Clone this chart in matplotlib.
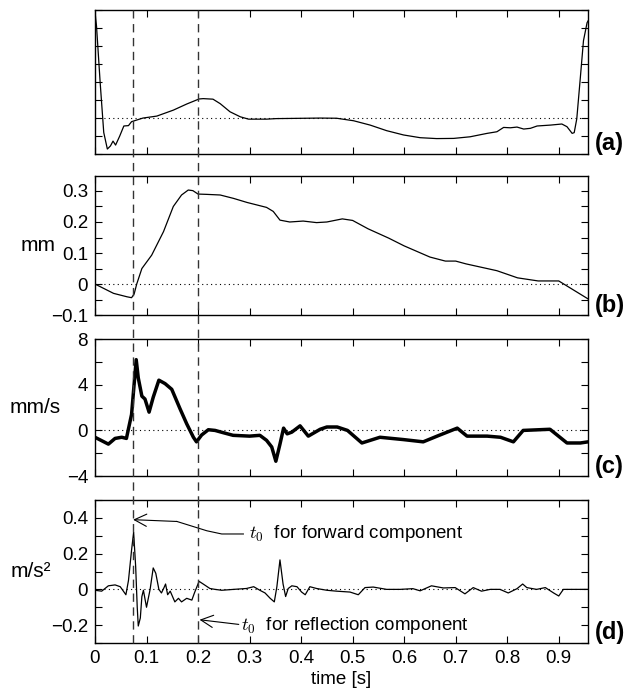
import matplotlib
matplotlib.use("Agg")
import matplotlib.pyplot as plt
from matplotlib.lines import Line2D
from matplotlib import transforms

plt.rcParams['font.family'] = ['Liberation Sans', 'DejaVu Sans']
plt.rcParams['mathtext.fontset'] = 'cm'

# (a) normalised pulse shape
time_a = [0, 0.003, 0.01, 0.017, 0.024, 0.030, 0.035, 0.040, 0.048, 0.056,
          0.065, 0.071, 0.081, 0.093, 0.12, 0.152, 0.178, 0.202, 0.21, 0.229,
          0.243, 0.262, 0.282, 0.298, 0.333, 0.352, 0.437, 0.469, 0.502, 0.534,
          0.566, 0.599, 0.631, 0.663, 0.696, 0.728, 0.761, 0.780, 0.793, 0.806,
          0.819, 0.832, 0.845, 0.858, 0.884, 0.906, 0.916, 0.926, 0.930, 0.935,
          0.942, 0.948, 0.955, 0.957]
wave_a = [5.9, 5.1, 2.0, -0.8, -1.72, -1.55, -1.28, -1.5, -1.0, -0.44,
          -0.42, -0.2, -0.11, 0.0, 0.11, 0.44, 0.78, 1.06, 1.08, 1.05,
          0.8, 0.35, 0.07, -0.06, -0.06, -0.03, 0.0, -0.01, -0.15, -0.39,
          -0.7, -0.94, -1.09, -1.14, -1.13, -1.04, -0.85, -0.76, -0.52, -0.54,
          -0.5, -0.61, -0.57, -0.44, -0.39, -0.33, -0.48, -0.85, -0.81, -0.04,
          2.28, 4.3, 5.3, 5.4]

# (b) displacement [mm]
time_b = [0, 0.036, 0.062, 0.071, 0.076, 0.081, 0.091, 0.11, 0.133, 0.152,
          0.168, 0.181, 0.19, 0.2, 0.217, 0.243, 0.269, 0.295, 0.333, 0.346,
          0.359, 0.378, 0.404, 0.43, 0.45, 0.48, 0.5, 0.53, 0.57, 0.6,
          0.65, 0.68, 0.7, 0.72, 0.78, 0.82, 0.86, 0.9, 0.957]
disp_b = [0.0, -0.03, -0.041, -0.044, -0.032, 0.0, 0.05, 0.093, 0.169, 0.25,
          0.287, 0.303, 0.301, 0.29, 0.289, 0.287, 0.276, 0.263, 0.247, 0.234,
          0.206, 0.2, 0.203, 0.198, 0.2, 0.21, 0.205, 0.178, 0.148, 0.123,
          0.087, 0.074, 0.074, 0.065, 0.043, 0.02, 0.01, 0.01, -0.048]

# (c) velocity [mm/s]
time_c = [0, 0.013, 0.026, 0.039, 0.052, 0.061, 0.071, 0.080, 0.084, 0.091,
          0.097, 0.105, 0.113, 0.124, 0.136, 0.149, 0.165, 0.178, 0.191, 0.197,
          0.207, 0.220, 0.233, 0.249, 0.268, 0.30, 0.32, 0.333, 0.343, 0.351,
          0.359, 0.366, 0.373, 0.382, 0.398, 0.414, 0.437, 0.45, 0.47, 0.49,
          0.518, 0.553, 0.598, 0.637, 0.664, 0.703, 0.722, 0.761, 0.787, 0.812,
          0.831, 0.883, 0.916, 0.942, 0.957]
vel_c = [-0.6, -0.9, -1.2, -0.7, -0.6, -0.7, 1.4, 6.2, 4.6, 3.0,
         2.75, 1.6, 2.9, 4.4, 4.1, 3.6, 1.9, 0.58, -0.6, -1.0,
         -0.4, 0.06, 0.0, -0.2, -0.43, -0.5, -0.43, -0.87, -1.45, -2.7,
         -1.2, 0.2, -0.3, -0.15, 0.4, -0.5, 0.1, 0.3, 0.3, 0.0,
         -1.1, -0.6, -0.8, -1.0, -0.5, 0.2, -0.5, -0.5, -0.6, -1.0,
         0.0, 0.1, -1.1, -1.1, -1.0]

# (d) acceleration [m/s^2]
time_d = [0, 0.013, 0.026, 0.039, 0.049, 0.06, 0.065, 0.071, 0.075, 0.079,
          0.082, 0.084, 0.088, 0.091, 0.094, 0.1, 0.107, 0.113, 0.118, 0.124,
          0.129, 0.134, 0.137, 0.141, 0.146, 0.155, 0.162, 0.168, 0.178, 0.188,
          0.193, 0.202, 0.21, 0.223, 0.233, 0.246, 0.269, 0.294, 0.308, 0.32,
          0.33, 0.34, 0.348, 0.353, 0.359, 0.365, 0.37, 0.375, 0.382, 0.392,
          0.401, 0.408, 0.417, 0.43, 0.45, 0.469, 0.495, 0.511, 0.524, 0.54,
          0.566, 0.592, 0.617, 0.631, 0.653, 0.676, 0.699, 0.718, 0.734, 0.75,
          0.767, 0.786, 0.802, 0.819, 0.83, 0.838, 0.857, 0.874, 0.89, 0.9,
          0.909, 0.929, 0.957]
acc_d = [-0.005, -0.01, 0.02, 0.025, 0.015, -0.03, 0.05, 0.22, 0.32, 0.125,
         -0.1, -0.205, -0.16, -0.04, -0.005, -0.1, 0.0, 0.12, 0.09, 0.0,
         -0.02, 0.01, 0.03, -0.03, -0.01, -0.07, -0.05, -0.07, -0.05, -0.06,
         -0.02, 0.045, 0.03, 0.005, 0.0, -0.005, 0.0, 0.005, 0.015, -0.005,
         -0.02, -0.05, -0.07, 0.015, 0.165, 0.03, -0.04, 0.005, 0.02, 0.015,
         -0.015, -0.03, 0.015, 0.005, -0.005, -0.01, -0.015, -0.03, 0.01, 0.013,
         0.0, 0.0, 0.004, -0.008, 0.02, 0.008, 0.01, -0.025, 0.01, -0.01,
         0.0, 0.0, -0.02, 0.004, 0.03, 0.01, 0.0, 0.01, -0.02, -0.037,
         0.0, 0.0, 0.0]

t_forward = 0.074
t_reflect = 0.2
x_max = 0.957
x_ticks = [0, 0.1, 0.2, 0.3, 0.4, 0.5, 0.6, 0.7, 0.8, 0.9]

fig = plt.figure(figsize=(6.29, 6.94), dpi=100)
left, width = 0.151, 0.784
ax_a = fig.add_axes([left, 0.778, width, 0.2075])
ax_b = fig.add_axes([left, 0.546, width, 0.2003])
ax_c = fig.add_axes([left, 0.314, width, 0.1974])
ax_d = fig.add_axes([left, 0.0735, width, 0.206])
axes = [ax_a, ax_b, ax_c, ax_d]

ax_a.plot(time_a, wave_a, color='black', lw=0.9)
ax_b.plot(time_b, disp_b, color='black', lw=0.9)
ax_c.plot(time_c, vel_c, color='black', lw=2.5, solid_joinstyle='round')
ax_d.plot(time_d, acc_d, color='black', lw=0.9)

def fmt(v):
    s = ('%g' % v)
    return s.replace('-', '\u2212')

ax_a.set_ylim(-2, 6)
ax_a.set_yticks(range(-2, 7))
ax_a.set_yticklabels([])

b_ticks = [-0.1, -0.05, 0, 0.05, 0.1, 0.15, 0.2, 0.25, 0.3]
ax_b.set_ylim(-0.1, 0.348)
ax_b.set_yticks(b_ticks)
ax_b.set_yticklabels([fmt(v) if i % 2 == 0 else '' for i, v in enumerate(b_ticks)])

c_ticks = [-4, -2, 0, 2, 4, 6, 8]
ax_c.set_ylim(-4, 8)
ax_c.set_yticks(c_ticks)
ax_c.set_yticklabels([fmt(v) if i % 2 == 0 else '' for i, v in enumerate(c_ticks)])

d_ticks = [-0.3, -0.2, -0.1, 0, 0.1, 0.2, 0.3, 0.4, 0.5]
ax_d.set_ylim(-0.3, 0.5)
ax_d.set_yticks(d_ticks)
ax_d.set_yticklabels([fmt(v) if i in (1, 3, 5, 7) else '' for i, v in enumerate(d_ticks)])

for ax, letter in zip(axes, ['(a)', '(b)', '(c)', '(d)']):
    ax.set_xlim(0, x_max)
    ax.set_xticks(x_ticks)
    ax.axhline(0, color='black', lw=0.8, ls=(0, (1, 3)))
    ax.tick_params(direction='in', length=5, width=0.8, top=True, right=True,
                   labelsize=13.5, pad=5)
    for s in ax.spines.values():
        s.set_linewidth(1.0)
    ax.text(1.014, 0.07, letter, transform=ax.transAxes, fontsize=17,
            fontweight='bold', ha='left', va='center')
    if ax is not ax_d:
        ax.set_xticklabels([])

ax_d.set_xticklabels([fmt(v) for v in x_ticks])
ax_d.set_xlabel('time [s]', fontsize=13.5, labelpad=3)

for ax, lab, xpos in [(ax_b, 'mm', -0.116), (ax_c, 'mm/s', -0.122),
                      (ax_d, 'm/s\u00b2', -0.13)]:
    ax.set_ylabel(lab, rotation=0, fontsize=15, ha='center', va='center')
    ax.yaxis.set_label_coords(xpos, 0.5)

# dashed markers running through all panels
trans = transforms.blended_transform_factory(ax_d.transData, fig.transFigure)
for t in (t_forward, t_reflect):
    fig.add_artist(Line2D([t, t], [0.0735, 0.9856], transform=trans,
                          color='#333333', lw=1.0, ls=(0, (6, 4))))

# annotations
ax_d.plot([0.288, 0.246, 0.217, 0.159], [0.31, 0.31, 0.328, 0.38],
          color='black', lw=0.8)
ax_d.annotate('', xy=(t_forward, 0.39), xytext=(0.159, 0.38),
              arrowprops=dict(arrowstyle='->', lw=0.8, color='black',
                              mutation_scale=22, shrinkA=0, shrinkB=0))
ax_d.text(0.298, 0.31, r'$t_0$  for forward component', fontsize=13.5,
          ha='left', va='center')
ax_d.annotate('', xy=(0.203, -0.17), xytext=(0.279, -0.196),
              arrowprops=dict(arrowstyle='->', lw=0.8, color='black',
                              mutation_scale=22, shrinkA=0, shrinkB=0))
ax_d.text(0.283, -0.203, r'$t_0$  for reflection component', fontsize=13.5,
          ha='left', va='center')

fig.savefig('out.png', dpi=100)
